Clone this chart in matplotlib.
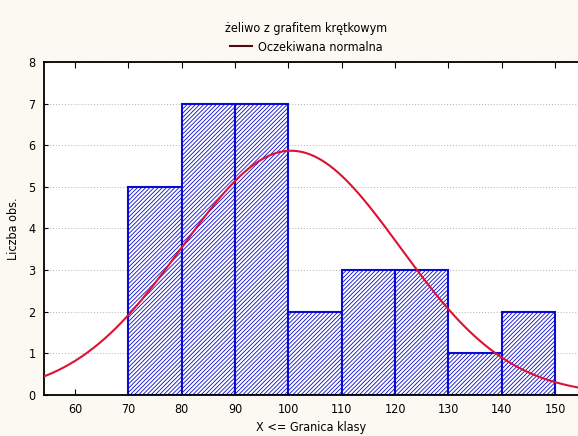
import numpy as np
import matplotlib
matplotlib.use("Agg")
import matplotlib.pyplot as plt
from matplotlib.lines import Line2D

plt.rcParams['font.family'] = ['Liberation Sans Narrow', 'DejaVu Sans']
plt.rcParams['font.stretch'] = 'condensed'
plt.rcParams['hatch.color'] = '#5c5ca0'
plt.rcParams['hatch.linewidth'] = 0.6

bin_edges = [70, 80, 90, 100, 110, 120, 130, 140, 150]
counts = [5, 7, 7, 2, 3, 3, 1, 2]
mean_val = 100.5
sd_val = 20.4
n_obs = sum(counts)
bin_width = 10

title = "żeliwo z grafitem krętkowym"
legend_label = "Oczekiwana normalna"
xlabel = "X <= Granica klasy"
ylabel = "Liczba obs."
xticks = [60, 70, 80, 90, 100, 110, 120, 130, 140, 150]
yticks = [0, 1, 2, 3, 4, 5, 6, 7, 8]

fig = plt.figure(figsize=(5.78, 4.36), dpi=100, facecolor='#fbf9f1')
ax = fig.add_axes([0.0761, 0.094, 0.924, 0.764])
ax.set_facecolor('white')

lefts = bin_edges[:-1]
ax.bar(lefts, counts, width=bin_width, align='edge', facecolor='white',
       edgecolor='#0a0ad0', linewidth=1.5, hatch='////////', zorder=2)

xs = np.linspace(50, 160, 400)
ys = n_obs * bin_width / (sd_val * np.sqrt(2 * np.pi)) * np.exp(-0.5 * ((xs - mean_val) / sd_val) ** 2)
ax.plot(xs, ys, color='#dd1133', linewidth=1.5, zorder=3)

ax.set_xlim(54.2, 154.3)
ax.set_ylim(0, 8)
ax.set_xticks(xticks)
ax.set_yticks(yticks)
ax.yaxis.grid(True, linestyle=(0, (1, 2)), color='#b0b0b0', linewidth=0.7, zorder=0)
ax.tick_params(axis='x', direction='in', top=True, bottom=True, length=4, labelsize=9, pad=6)
ax.tick_params(axis='y', direction='in', left=True, length=3, labelsize=9, pad=6)
ax.spines['right'].set_visible(False)
for s in ['left', 'top', 'bottom']:
    ax.spines[s].set_linewidth(1.3)

ax.set_xlabel(xlabel, fontsize=9, labelpad=3)
ax.set_ylabel(ylabel, fontsize=9, labelpad=6)

fig.text(0.53, 0.935, title, ha='center', va='center', fontsize=9)
handle = Line2D([0], [0], color='#550a10', linewidth=1.5)
fig.legend([handle], [legend_label], loc='center', bbox_to_anchor=(0.53, 0.892),
           frameon=False, fontsize=9, handlelength=1.8, handletextpad=0.5)

fig.savefig('out.png', dpi=100, facecolor=fig.get_facecolor())
